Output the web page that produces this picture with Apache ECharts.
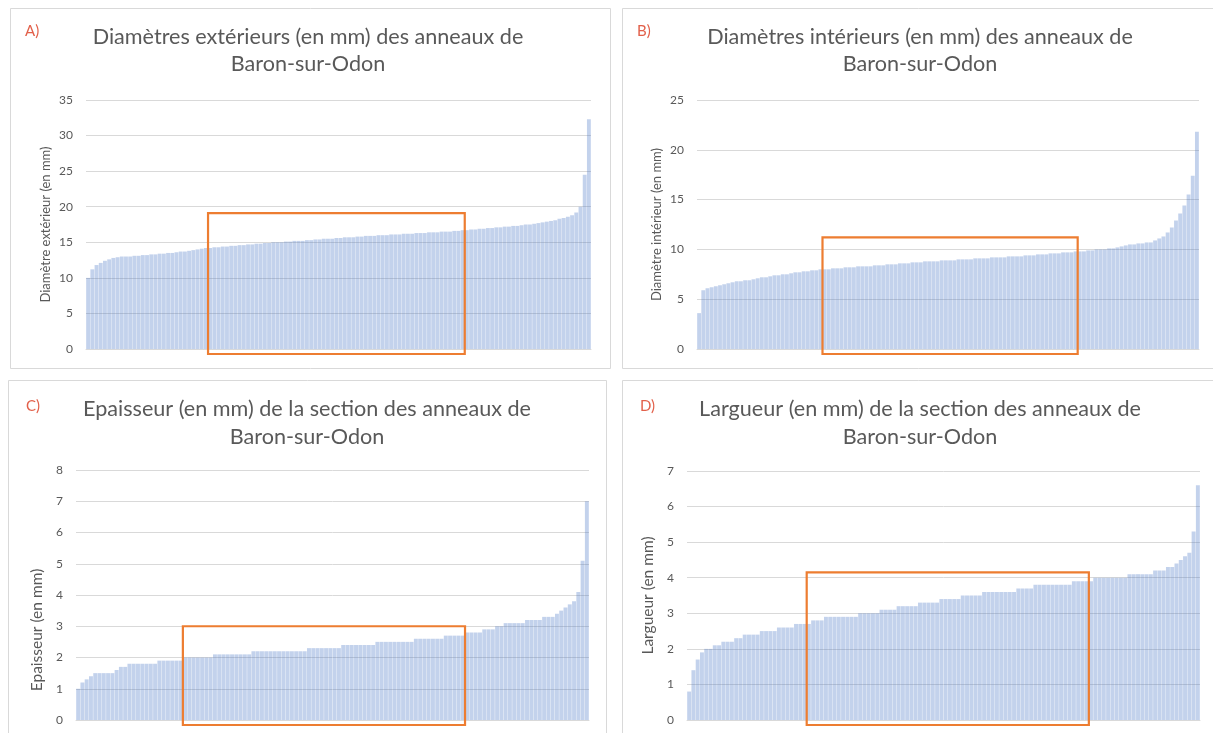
<!DOCTYPE html>
<html>
<head>
<meta charset="utf-8">
<script src="https://cdn.jsdelivr.net/npm/echarts@6/dist/echarts.min.js"></script>
<style>
  html, body { margin: 0; padding: 0; background: #ffffff; }
  #chart { width: 1213px; height: 733px; }
</style>
</head>
<body>
<div id="chart"></div>
<script>
// Mesures triées par ordre croissant (mm), un anneau par barre
const diametreExterieur = [
  10.0, 11.2, 11.8, 12.1, 12.4, 12.6, 12.8, 12.9, 13.0, 13.0,
  13.0, 13.1, 13.1, 13.2, 13.2, 13.3, 13.3, 13.4, 13.4, 13.5,
  13.5, 13.6, 13.7, 13.7, 13.8, 13.9, 14.0, 14.1, 14.2, 14.2,
  14.3, 14.3, 14.4, 14.4, 14.5, 14.5, 14.6, 14.6, 14.7, 14.7,
  14.8, 14.8, 14.9, 14.9, 15.0, 15.0, 15.0, 15.1, 15.1, 15.2,
  15.2, 15.2, 15.3, 15.3, 15.4, 15.4, 15.5, 15.5, 15.5, 15.6,
  15.6, 15.7, 15.7, 15.7, 15.8, 15.8, 15.9, 15.9, 15.9, 16.0,
  16.0, 16.0, 16.1, 16.1, 16.1, 16.2, 16.2, 16.2, 16.3, 16.3,
  16.3, 16.4, 16.4, 16.4, 16.5, 16.5, 16.5, 16.6, 16.6, 16.7,
  16.7, 16.8, 16.8, 16.9, 16.9, 17.0, 17.0, 17.1, 17.1, 17.2,
  17.2, 17.3, 17.3, 17.4, 17.5, 17.5, 17.6, 17.7, 17.8, 17.9,
  18.0, 18.1, 18.3, 18.4, 18.6, 18.8, 19.2, 20.0, 24.5, 32.3
];
const diametreInterieur = [
  3.6, 5.9, 6.1, 6.2, 6.3, 6.4, 6.5, 6.6, 6.7, 6.8,
  6.8, 6.9, 6.9, 7.0, 7.1, 7.2, 7.2, 7.3, 7.4, 7.4,
  7.5, 7.5, 7.6, 7.7, 7.7, 7.8, 7.8, 7.9, 7.9, 8.0,
  8.0, 8.0, 8.1, 8.1, 8.1, 8.2, 8.2, 8.2, 8.3, 8.3,
  8.3, 8.3, 8.4, 8.4, 8.4, 8.5, 8.5, 8.5, 8.6, 8.6,
  8.6, 8.7, 8.7, 8.7, 8.8, 8.8, 8.8, 8.8, 8.9, 8.9,
  8.9, 8.9, 9.0, 9.0, 9.0, 9.0, 9.1, 9.1, 9.1, 9.1,
  9.2, 9.2, 9.2, 9.2, 9.3, 9.3, 9.3, 9.3, 9.4, 9.4,
  9.4, 9.5, 9.5, 9.5, 9.6, 9.6, 9.6, 9.7, 9.7, 9.7,
  9.8, 9.8, 9.8, 9.9, 9.9, 10.0, 10.0, 10.0, 10.1, 10.1,
  10.2, 10.3, 10.4, 10.5, 10.5, 10.6, 10.6, 10.7, 10.7, 10.9,
  11.1, 11.3, 11.7, 12.2, 12.9, 13.6, 14.4, 15.5, 17.4, 21.8
];
const epaisseur = [
  1.0, 1.2, 1.3, 1.4, 1.5, 1.5, 1.5, 1.5, 1.5, 1.6,
  1.7, 1.7, 1.8, 1.8, 1.8, 1.8, 1.8, 1.8, 1.8, 1.9,
  1.9, 1.9, 1.9, 1.9, 1.9, 2.0, 2.0, 2.0, 2.0, 2.0,
  2.0, 2.0, 2.1, 2.1, 2.1, 2.1, 2.1, 2.1, 2.1, 2.1,
  2.1, 2.2, 2.2, 2.2, 2.2, 2.2, 2.2, 2.2, 2.2, 2.2,
  2.2, 2.2, 2.2, 2.2, 2.3, 2.3, 2.3, 2.3, 2.3, 2.3,
  2.3, 2.3, 2.4, 2.4, 2.4, 2.4, 2.4, 2.4, 2.4, 2.4,
  2.5, 2.5, 2.5, 2.5, 2.5, 2.5, 2.5, 2.5, 2.5, 2.6,
  2.6, 2.6, 2.6, 2.6, 2.6, 2.6, 2.7, 2.7, 2.7, 2.7,
  2.7, 2.8, 2.8, 2.8, 2.8, 2.9, 2.9, 2.9, 3.0, 3.0,
  3.1, 3.1, 3.1, 3.1, 3.1, 3.2, 3.2, 3.2, 3.2, 3.3,
  3.3, 3.3, 3.4, 3.5, 3.6, 3.7, 3.8, 4.1, 5.1, 7.0
];
const largueur = [
  0.8, 1.4, 1.7, 1.9, 2.0, 2.0, 2.1, 2.1, 2.2, 2.2,
  2.2, 2.3, 2.3, 2.4, 2.4, 2.4, 2.4, 2.5, 2.5, 2.5,
  2.5, 2.6, 2.6, 2.6, 2.6, 2.7, 2.7, 2.7, 2.7, 2.8,
  2.8, 2.8, 2.9, 2.9, 2.9, 2.9, 2.9, 2.9, 2.9, 2.9,
  3.0, 3.0, 3.0, 3.0, 3.0, 3.1, 3.1, 3.1, 3.1, 3.2,
  3.2, 3.2, 3.2, 3.2, 3.3, 3.3, 3.3, 3.3, 3.3, 3.4,
  3.4, 3.4, 3.4, 3.4, 3.5, 3.5, 3.5, 3.5, 3.5, 3.6,
  3.6, 3.6, 3.6, 3.6, 3.6, 3.6, 3.6, 3.7, 3.7, 3.7,
  3.7, 3.8, 3.8, 3.8, 3.8, 3.8, 3.8, 3.8, 3.8, 3.8,
  3.9, 3.9, 3.9, 3.9, 3.9, 4.0, 4.0, 4.0, 4.0, 4.0,
  4.0, 4.0, 4.0, 4.1, 4.1, 4.1, 4.1, 4.1, 4.1, 4.2,
  4.2, 4.2, 4.3, 4.3, 4.4, 4.5, 4.6, 4.7, 5.3, 6.6
];

// Rang de chaque anneau dans le classement
const rangs = diametreExterieur.map((_, i) => String(i + 1));

// Textes des quatre panneaux
const lettres = ['A)', 'B)', 'C)', 'D)'];
const titresLigne1 = [
  'Diamètres extérieurs (en mm) des anneaux de',
  'Diamètres intérieurs (en mm) des anneaux de',
  'Epaisseur (en mm) de la section des anneaux de',
  'Largueur (en mm) de la section des anneaux de'
];
const titresLigne2 = ['Baron-sur-Odon', 'Baron-sur-Odon', 'Baron-sur-Odon', 'Baron-sur-Odon'];
const nomsAxes = [
  'Diamètre extérieur (en mm)',
  'Diamètre intérieur (en mm)',
  'Epaisseur (en mm)',
  'Largueur (en mm)'
];
const series = [diametreExterieur, diametreInterieur, epaisseur, largueur];
const axeMax = [35, 25, 8, 7];
const axePas = [5, 5, 1, 1];

// Zone centrale encadrée : premier et dernier rang, valeur haute (mm)
const cadreDebut = [29, 30, 25, 28];
const cadreFin = [89, 90, 90, 93];
const cadreHaut = [19.1, 11.2, 3.0, 4.15];

// Mise en page
const grilles = [
  { left: 86, top: 100, width: 505, height: 249 },
  { left: 697, top: 100, width: 502, height: 249 },
  { left: 76, top: 470, width: 513, height: 250 },
  { left: 687, top: 471, width: 513, height: 249 }
];
const cadres = [
  { x: 10, y: 8, w: 600, h: 360 },
  { x: 622, y: 8, w: 600, h: 360 },
  { x: 8, y: 380, w: 598, h: 360 },
  { x: 622, y: 380, w: 600, h: 360 }
];
const titresPos = [
  { x: 308, y1: 37, y2: 64 },
  { x: 920, y1: 37, y2: 64 },
  { x: 307, y1: 409, y2: 437 },
  { x: 920, y1: 409, y2: 437 }
];
const lettresPos = [
  { x: 25, y: 31 }, { x: 637, y: 31 }, { x: 26, y: 406 }, { x: 640, y: 406 }
];
const nomTaille = [13, 13, 15.5, 15.5];
const nomMarge = [34, 34, 31, 31];
const nomDecalage = [0, 0, 70, 0];

const police = 'Lato, "Open Sans", sans-serif';
const gris = '#595959';
const barreCouleur = 'rgba(68, 114, 196, 0.32)';

const chart = echarts.init(document.getElementById('chart'), null, { renderer: 'canvas' });

const option = {
  animation: false,
  backgroundColor: '#ffffff',
  textStyle: { fontFamily: police },
  grid: grilles.map(g => Object.assign({ containLabel: false }, g)),
  xAxis: grilles.map((_, k) => ({
    type: 'category',
    gridIndex: k,
    data: rangs,
    axisLabel: { show: false },
    axisTick: { show: false },
    axisLine: { show: true, lineStyle: { color: '#d9d9d9', width: 1 } }
  })),
  yAxis: grilles.map((_, k) => ({
    type: 'value',
    gridIndex: k,
    min: 0,
    max: axeMax[k],
    interval: axePas[k],
    axisLine: { show: false },
    axisTick: { show: false },
    axisLabel: { color: gris, fontSize: 12, margin: 13, fontFamily: police },
    splitLine: { show: true, lineStyle: { color: '#d9d9d9', width: 1 } },
    name: nomsAxes[k],
    nameLocation: 'middle',
    nameGap: nomMarge[k],
    nameTextStyle: {
      color: gris, fontSize: nomTaille[k], fontFamily: police,
      padding: [0, nomDecalage[k], 0, 0]
    }
  })),
  series: series.map((data, k) => ({
    type: 'bar',
    xAxisIndex: k,
    yAxisIndex: k,
    data: data,
    barCategoryGap: '8%',
    silent: true,
    itemStyle: { color: barreCouleur }
  }))
};

chart.setOption(option);

// Cadres, titres, lettres et rectangles orange
const graphiques = [];
cadres.forEach(c => {
  graphiques.push({
    type: 'rect', silent: true, z: 0,
    shape: { x: c.x + 0.5, y: c.y + 0.5, width: c.w, height: c.h },
    style: { fill: 'none', stroke: '#d9d9d9', lineWidth: 1 }
  });
});
titresPos.forEach((t, k) => {
  graphiques.push({
    type: 'text', silent: true, z: 5,
    style: { text: titresLigne1[k], x: t.x, y: t.y1, textAlign: 'center', textVerticalAlign: 'middle',
             font: '21.6px ' + police, fill: gris }
  });
  graphiques.push({
    type: 'text', silent: true, z: 5,
    style: { text: titresLigne2[k], x: t.x, y: t.y2, textAlign: 'center', textVerticalAlign: 'middle',
             font: '21.6px ' + police, fill: gris }
  });
});
lettresPos.forEach((p, k) => {
  graphiques.push({
    type: 'text', silent: true, z: 5,
    style: { text: lettres[k], x: p.x, y: p.y, textAlign: 'left', textVerticalAlign: 'middle',
             font: '15px ' + police, fill: '#e2604a' }
  });
});
series.forEach((_, k) => {
  const haut = chart.convertToPixel({ gridIndex: k }, [cadreDebut[k], cadreHaut[k]]);
  const suivant = chart.convertToPixel({ gridIndex: k }, [cadreDebut[k] + 1, 0]);
  const bas = chart.convertToPixel({ gridIndex: k }, [cadreFin[k], 0]);
  const demi = (suivant[0] - haut[0]) / 2;
  const x0 = haut[0] - demi;
  const x1 = bas[0] + demi;
  graphiques.push({
    type: 'rect', silent: true, z: 20,
    shape: { x: x0, y: haut[1], width: x1 - x0, height: bas[1] + 5 - haut[1] },
    style: { fill: 'none', stroke: '#ed7d31', lineWidth: 2.2 }
  });
});

chart.setOption({ graphic: graphiques });
</script>
</body>
</html>
